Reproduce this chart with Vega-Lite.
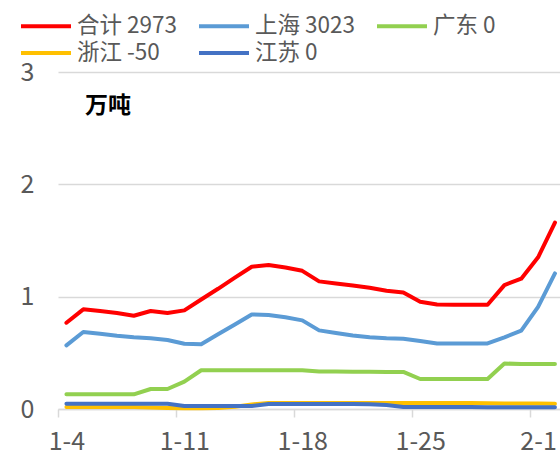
{
  "$schema": "https://vega.github.io/schema/vega-lite/v6.json",
  "width": 502,
  "height": 337,
  "autosize": {"type": "none"},
  "padding": {"left": 58, "top": 72, "right": 0, "bottom": 50},
  "background": "white",
  "title": {
    "text": "万吨",
    "anchor": "start",
    "orient": "top",
    "frame": "group",
    "offset": 0,
    "dx": 27,
    "dy": 104,
    "fontSize": 23,
    "fontWeight": "bold",
    "color": "#000000",
    "font": "Noto Sans CJK SC",
    "baseline": "top"
  },
  "data": {
    "values": [
      {"day": 0, "date": "1-4", "s": "合计 2973", "v": 0.768},
      {"day": 1, "date": "1-5", "s": "合计 2973", "v": 0.887},
      {"day": 2, "date": "1-6", "s": "合计 2973", "v": 0.872},
      {"day": 3, "date": "1-7", "s": "合计 2973", "v": 0.854},
      {"day": 4, "date": "1-8", "s": "合计 2973", "v": 0.83},
      {"day": 5, "date": "1-9", "s": "合计 2973", "v": 0.872},
      {"day": 6, "date": "1-10", "s": "合计 2973", "v": 0.854},
      {"day": 7, "date": "1-11", "s": "合计 2973", "v": 0.878},
      {"day": 8, "date": "1-12", "s": "合计 2973", "v": 0.975},
      {"day": 9, "date": "1-13", "s": "合计 2973", "v": 1.07},
      {"day": 10, "date": "1-14", "s": "合计 2973", "v": 1.17},
      {"day": 11, "date": "1-15", "s": "合计 2973", "v": 1.266},
      {"day": 12, "date": "1-16", "s": "合计 2973", "v": 1.281},
      {"day": 13, "date": "1-17", "s": "合计 2973", "v": 1.26},
      {"day": 14, "date": "1-18", "s": "合计 2973", "v": 1.23},
      {"day": 15, "date": "1-19", "s": "合计 2973", "v": 1.136},
      {"day": 16, "date": "1-20", "s": "合计 2973", "v": 1.118},
      {"day": 17, "date": "1-21", "s": "合计 2973", "v": 1.1},
      {"day": 18, "date": "1-22", "s": "合计 2973", "v": 1.08},
      {"day": 19, "date": "1-23", "s": "合计 2973", "v": 1.053},
      {"day": 20, "date": "1-24", "s": "合计 2973", "v": 1.038},
      {"day": 21, "date": "1-25", "s": "合计 2973", "v": 0.955},
      {"day": 22, "date": "1-26", "s": "合计 2973", "v": 0.931},
      {"day": 23, "date": "1-27", "s": "合计 2973", "v": 0.928},
      {"day": 24, "date": "1-28", "s": "合计 2973", "v": 0.928},
      {"day": 25, "date": "1-29", "s": "合计 2973", "v": 0.928},
      {"day": 26, "date": "1-30", "s": "合计 2973", "v": 1.103},
      {"day": 27, "date": "1-31", "s": "合计 2973", "v": 1.16},
      {"day": 28, "date": "2-1", "s": "合计 2973", "v": 1.35},
      {"day": 29, "date": "2-2", "s": "合计 2973", "v": 1.66},

      {"day": 0, "date": "1-4", "s": "上海 3023", "v": 0.567},
      {"day": 1, "date": "1-5", "s": "上海 3023", "v": 0.685},
      {"day": 2, "date": "1-6", "s": "上海 3023", "v": 0.67},
      {"day": 3, "date": "1-7", "s": "上海 3023", "v": 0.652},
      {"day": 4, "date": "1-8", "s": "上海 3023", "v": 0.638},
      {"day": 5, "date": "1-9", "s": "上海 3023", "v": 0.629},
      {"day": 6, "date": "1-10", "s": "上海 3023", "v": 0.614},
      {"day": 7, "date": "1-11", "s": "上海 3023", "v": 0.581},
      {"day": 8, "date": "1-12", "s": "上海 3023", "v": 0.577},
      {"day": 9, "date": "1-13", "s": "上海 3023", "v": 0.665},
      {"day": 10, "date": "1-14", "s": "上海 3023", "v": 0.752},
      {"day": 11, "date": "1-15", "s": "上海 3023", "v": 0.842},
      {"day": 12, "date": "1-16", "s": "上海 3023", "v": 0.836},
      {"day": 13, "date": "1-17", "s": "上海 3023", "v": 0.816},
      {"day": 14, "date": "1-18", "s": "上海 3023", "v": 0.789},
      {"day": 15, "date": "1-19", "s": "上海 3023", "v": 0.7},
      {"day": 16, "date": "1-20", "s": "上海 3023", "v": 0.676},
      {"day": 17, "date": "1-21", "s": "上海 3023", "v": 0.655},
      {"day": 18, "date": "1-22", "s": "上海 3023", "v": 0.638},
      {"day": 19, "date": "1-23", "s": "上海 3023", "v": 0.63},
      {"day": 20, "date": "1-24", "s": "上海 3023", "v": 0.626},
      {"day": 21, "date": "1-25", "s": "上海 3023", "v": 0.605},
      {"day": 22, "date": "1-26", "s": "上海 3023", "v": 0.584},
      {"day": 23, "date": "1-27", "s": "上海 3023", "v": 0.584},
      {"day": 24, "date": "1-28", "s": "上海 3023", "v": 0.584},
      {"day": 25, "date": "1-29", "s": "上海 3023", "v": 0.584},
      {"day": 26, "date": "1-30", "s": "上海 3023", "v": 0.638},
      {"day": 27, "date": "1-31", "s": "上海 3023", "v": 0.697},
      {"day": 28, "date": "2-1", "s": "上海 3023", "v": 0.91},
      {"day": 29, "date": "2-2", "s": "上海 3023", "v": 1.207},

      {"day": 0, "date": "1-4", "s": "广东 0", "v": 0.131},
      {"day": 1, "date": "1-5", "s": "广东 0", "v": 0.131},
      {"day": 2, "date": "1-6", "s": "广东 0", "v": 0.131},
      {"day": 3, "date": "1-7", "s": "广东 0", "v": 0.131},
      {"day": 4, "date": "1-8", "s": "广东 0", "v": 0.131},
      {"day": 5, "date": "1-9", "s": "广东 0", "v": 0.178},
      {"day": 6, "date": "1-10", "s": "广东 0", "v": 0.178},
      {"day": 7, "date": "1-11", "s": "广东 0", "v": 0.243},
      {"day": 8, "date": "1-12", "s": "广东 0", "v": 0.345},
      {"day": 9, "date": "1-13", "s": "广东 0", "v": 0.345},
      {"day": 10, "date": "1-14", "s": "广东 0", "v": 0.345},
      {"day": 11, "date": "1-15", "s": "广东 0", "v": 0.345},
      {"day": 12, "date": "1-16", "s": "广东 0", "v": 0.345},
      {"day": 13, "date": "1-17", "s": "广东 0", "v": 0.345},
      {"day": 14, "date": "1-18", "s": "广东 0", "v": 0.345},
      {"day": 15, "date": "1-19", "s": "广东 0", "v": 0.334},
      {"day": 16, "date": "1-20", "s": "广东 0", "v": 0.333},
      {"day": 17, "date": "1-21", "s": "广东 0", "v": 0.332},
      {"day": 18, "date": "1-22", "s": "广东 0", "v": 0.331},
      {"day": 19, "date": "1-23", "s": "广东 0", "v": 0.33},
      {"day": 20, "date": "1-24", "s": "广东 0", "v": 0.33},
      {"day": 21, "date": "1-25", "s": "广东 0", "v": 0.267},
      {"day": 22, "date": "1-26", "s": "广东 0", "v": 0.267},
      {"day": 23, "date": "1-27", "s": "广东 0", "v": 0.267},
      {"day": 24, "date": "1-28", "s": "广东 0", "v": 0.267},
      {"day": 25, "date": "1-29", "s": "广东 0", "v": 0.267},
      {"day": 26, "date": "1-30", "s": "广东 0", "v": 0.405},
      {"day": 27, "date": "1-31", "s": "广东 0", "v": 0.4},
      {"day": 28, "date": "2-1", "s": "广东 0", "v": 0.4},
      {"day": 29, "date": "2-2", "s": "广东 0", "v": 0.4},

      {"day": 0, "date": "1-4", "s": "浙江 -50", "v": 0.018},
      {"day": 1, "date": "1-5", "s": "浙江 -50", "v": 0.018},
      {"day": 2, "date": "1-6", "s": "浙江 -50", "v": 0.018},
      {"day": 3, "date": "1-7", "s": "浙江 -50", "v": 0.018},
      {"day": 4, "date": "1-8", "s": "浙江 -50", "v": 0.018},
      {"day": 5, "date": "1-9", "s": "浙江 -50", "v": 0.014},
      {"day": 6, "date": "1-10", "s": "浙江 -50", "v": 0.01},
      {"day": 7, "date": "1-11", "s": "浙江 -50", "v": 0.006},
      {"day": 8, "date": "1-12", "s": "浙江 -50", "v": 0.006},
      {"day": 9, "date": "1-13", "s": "浙江 -50", "v": 0.008},
      {"day": 10, "date": "1-14", "s": "浙江 -50", "v": 0.02},
      {"day": 11, "date": "1-15", "s": "浙江 -50", "v": 0.04},
      {"day": 12, "date": "1-16", "s": "浙江 -50", "v": 0.054},
      {"day": 13, "date": "1-17", "s": "浙江 -50", "v": 0.054},
      {"day": 14, "date": "1-18", "s": "浙江 -50", "v": 0.054},
      {"day": 15, "date": "1-19", "s": "浙江 -50", "v": 0.054},
      {"day": 16, "date": "1-20", "s": "浙江 -50", "v": 0.054},
      {"day": 17, "date": "1-21", "s": "浙江 -50", "v": 0.054},
      {"day": 18, "date": "1-22", "s": "浙江 -50", "v": 0.054},
      {"day": 19, "date": "1-23", "s": "浙江 -50", "v": 0.054},
      {"day": 20, "date": "1-24", "s": "浙江 -50", "v": 0.054},
      {"day": 21, "date": "1-25", "s": "浙江 -50", "v": 0.054},
      {"day": 22, "date": "1-26", "s": "浙江 -50", "v": 0.054},
      {"day": 23, "date": "1-27", "s": "浙江 -50", "v": 0.054},
      {"day": 24, "date": "1-28", "s": "浙江 -50", "v": 0.054},
      {"day": 25, "date": "1-29", "s": "浙江 -50", "v": 0.052},
      {"day": 26, "date": "1-30", "s": "浙江 -50", "v": 0.05},
      {"day": 27, "date": "1-31", "s": "浙江 -50", "v": 0.05},
      {"day": 28, "date": "2-1", "s": "浙江 -50", "v": 0.048},
      {"day": 29, "date": "2-2", "s": "浙江 -50", "v": 0.046},

      {"day": 0, "date": "1-4", "s": "江苏 0", "v": 0.047},
      {"day": 1, "date": "1-5", "s": "江苏 0", "v": 0.047},
      {"day": 2, "date": "1-6", "s": "江苏 0", "v": 0.047},
      {"day": 3, "date": "1-7", "s": "江苏 0", "v": 0.047},
      {"day": 4, "date": "1-8", "s": "江苏 0", "v": 0.047},
      {"day": 5, "date": "1-9", "s": "江苏 0", "v": 0.047},
      {"day": 6, "date": "1-10", "s": "江苏 0", "v": 0.047},
      {"day": 7, "date": "1-11", "s": "江苏 0", "v": 0.027},
      {"day": 8, "date": "1-12", "s": "江苏 0", "v": 0.027},
      {"day": 9, "date": "1-13", "s": "江苏 0", "v": 0.027},
      {"day": 10, "date": "1-14", "s": "江苏 0", "v": 0.027},
      {"day": 11, "date": "1-15", "s": "江苏 0", "v": 0.027},
      {"day": 12, "date": "1-16", "s": "江苏 0", "v": 0.045},
      {"day": 13, "date": "1-17", "s": "江苏 0", "v": 0.045},
      {"day": 14, "date": "1-18", "s": "江苏 0", "v": 0.045},
      {"day": 15, "date": "1-19", "s": "江苏 0", "v": 0.045},
      {"day": 16, "date": "1-20", "s": "江苏 0", "v": 0.045},
      {"day": 17, "date": "1-21", "s": "江苏 0", "v": 0.045},
      {"day": 18, "date": "1-22", "s": "江苏 0", "v": 0.043},
      {"day": 19, "date": "1-23", "s": "江苏 0", "v": 0.036},
      {"day": 20, "date": "1-24", "s": "江苏 0", "v": 0.018},
      {"day": 21, "date": "1-25", "s": "江苏 0", "v": 0.018},
      {"day": 22, "date": "1-26", "s": "江苏 0", "v": 0.017},
      {"day": 23, "date": "1-27", "s": "江苏 0", "v": 0.017},
      {"day": 24, "date": "1-28", "s": "江苏 0", "v": 0.017},
      {"day": 25, "date": "1-29", "s": "江苏 0", "v": 0.016},
      {"day": 26, "date": "1-30", "s": "江苏 0", "v": 0.016},
      {"day": 27, "date": "1-31", "s": "江苏 0", "v": 0.016},
      {"day": 28, "date": "2-1", "s": "江苏 0", "v": 0.015},
      {"day": 29, "date": "2-2", "s": "江苏 0", "v": 0.015}
    ]
  },
  "mark": {"type": "line", "strokeWidth": 4, "strokeCap": "round", "strokeJoin": "round", "clip": false},
  "encoding": {
    "x": {
      "field": "day",
      "type": "quantitative",
      "scale": {"domain": [-0.5, 29.3], "nice": false, "zero": false},
      "axis": {
        "title": null,
        "values": [-0.5, 6.5, 13.5, 20.5, 27.5],
        "labelExpr": "['1-4','1-11','1-18','1-25','2-1'][round((datum.value + 0.5) / 7)]",
        "labelOffset": 8.4,
        "grid": false,
        "domainColor": "#d9d9d9",
        "domainWidth": 1.5,
        "tickColor": "#d9d9d9",
        "tickWidth": 1.5,
        "tickSize": 8,
        "labelFontSize": 25,
        "labelColor": "#595959",
        "labelFont": "Noto Sans CJK SC",
        "labelPadding": 12,
        "labelFlush": false,
        "labelOverlap": false,
        "labelBound": false
      }
    },
    "y": {
      "field": "v",
      "type": "quantitative",
      "scale": {"domain": [0, 3], "nice": false},
      "axis": {
        "title": null,
        "values": [0, 1, 2, 3],
        "grid": true,
        "gridColor": "#d9d9d9",
        "gridWidth": 1.5,
        "domain": false,
        "ticks": false,
        "labelFontSize": 25,
        "labelColor": "#595959",
        "labelFont": "Noto Sans CJK SC",
        "labelPadding": 24
      }
    },
    "color": {
      "field": "s",
      "type": "nominal",
      "sort": ["合计 2973", "上海 3023", "广东 0", "浙江 -50", "江苏 0"],
      "scale": {
        "domain": ["合计 2973", "上海 3023", "广东 0", "浙江 -50", "江苏 0"],
        "range": ["#ff0000", "#5b9bd5", "#92d050", "#ffc000", "#4472c4"]
      },
      "legend": {
        "title": null,
        "orient": "none",
        "legendX": -24,
        "legendY": -58,
        "direction": "horizontal",
        "columns": 3,
        "symbolType": "M-2.5,0H2.5",
        "symbolStrokeWidth": 4,
        "symbolSize": 400,
        "labelFontSize": 22.5,
        "labelColor": "#595959",
        "labelFont": "Noto Sans CJK SC",
        "labelOffset": 19,
        "labelLimit": 0,
        "columnPadding": 14,
        "rowPadding": 3
      }
    }
  },
  "config": {
    "view": {"stroke": null}
  }
}
